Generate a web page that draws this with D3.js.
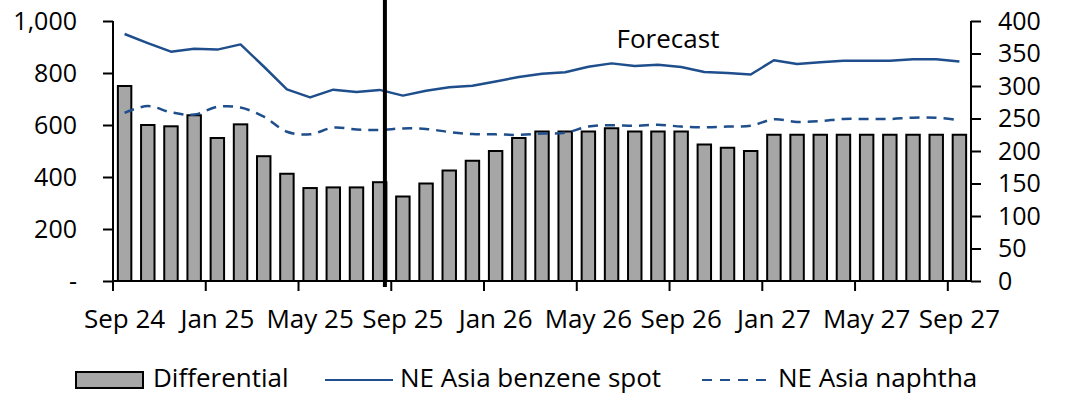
<!DOCTYPE html>
<html>
<head>
<meta charset="utf-8">
<script src="https://cdn.jsdelivr.net/npm/d3@7"></script>
<style>
  html, body { margin: 0; padding: 0; background: #fff; }
  svg text { font-family: "Open Sans", "Noto Sans", sans-serif; fill: #000; }
</style>
</head>
<body>
<svg id="chart" width="1076" height="394"></svg>
<script>
// Monthly categories, Sep 24 .. Sep 27
const months = [
  "Sep 24","Oct 24","Nov 24","Dec 24","Jan 25","Feb 25","Mar 25","Apr 25","May 25","Jun 25","Jul 25","Aug 25",
  "Sep 25","Oct 25","Nov 25","Dec 25","Jan 26","Feb 26","Mar 26","Apr 26","May 26","Jun 26","Jul 26","Aug 26",
  "Sep 26","Oct 26","Nov 26","Dec 26","Jan 27","Feb 27","Mar 27","Apr 27","May 27","Jun 27","Jul 27","Aug 27","Sep 27"
];

// Benzene-naphtha differential (right axis)
const differential = [
  300, 240, 238, 255, 220, 241, 192, 165, 143, 144, 144, 152,
  130, 150, 170, 185, 200, 220, 230, 230, 230, 235, 230, 230,
  230, 210, 205, 200, 225, 225, 225, 225, 225, 225, 225, 225, 225
];

// NE Asia benzene spot (left axis)
const benzene = [
  950, 915, 882, 893, 890, 910, 825, 737, 706, 736, 727, 735,
  713, 732, 745, 751, 767, 785, 797, 803, 824, 837, 827, 832,
  823, 804, 800, 794, 849, 835, 841, 847, 847, 847, 853, 853, 844
];

// NE Asia naphtha (left axis)
const naphtha = [
  647, 673, 649, 640, 670, 667, 632, 574, 564, 590, 583, 581,
  587, 585, 573, 565, 564, 562, 567, 570, 594, 599, 597, 601,
  594, 591, 594, 597, 622, 612, 615, 623, 623, 623, 628, 628, 619
];

const leftTicks = [0, 200, 400, 600, 800, 1000];
const rightTicks = [0, 50, 100, 150, 200, 250, 300, 350, 400];
const xLabelMonths = ["Sep 24","Jan 25","May 25","Sep 25","Jan 26","May 26","Sep 26","Jan 27","May 27","Sep 27"];
const forecastFrom = "Aug 25";

const lineColor = "#1f4e8c";
const barFill = "#a6a6a6";
const fontSize = 25;
const labelSize = 26;

const svg = d3.select("#chart");
const plot = { left: 113, right: 971, top: 21, bottom: 281 };

const x = d3.scaleBand()
  .domain(months)
  .range([plot.left, plot.right])
  .paddingInner(0.42)
  .paddingOuter(0.21);
const step = x.step();
const bw = x.bandwidth();
const cx = m => x(m) + bw / 2;
const boundary = m => cx(m) - step / 2;

const yL = d3.scaleLinear().domain([0, 1000]).range([plot.bottom, plot.top]);
const yR = d3.scaleLinear().domain([0, 400]).range([plot.bottom, plot.top]);

// Bars
svg.append("g")
  .selectAll("rect")
  .data(differential)
  .join("rect")
  .attr("x", (d, i) => x(months[i]))
  .attr("y", d => yR(d))
  .attr("width", bw)
  .attr("height", d => yR(0) - yR(d))
  .attr("fill", barFill)
  .attr("stroke", "#000")
  .attr("stroke-width", 2);

// Left axis
const gL = svg.append("g")
  .attr("transform", `translate(${plot.left},0)`)
  .call(d3.axisLeft(yL)
    .tickValues(leftTicks)
    .tickSize(10)
    .tickPadding(26)
    .tickFormat(d => d === 0 ? "-" : d3.format(",")(d)));

// Right axis
const gR = svg.append("g")
  .attr("transform", `translate(${plot.right},0)`)
  .call(d3.axisRight(yR)
    .tickValues(rightTicks)
    .tickSize(10)
    .tickPadding(17));

[gL, gR].forEach(g => {
  g.select(".domain").attr("stroke", "#000").attr("stroke-width", 2);
  g.selectAll(".tick line").attr("stroke", "#000").attr("stroke-width", 2);
  g.selectAll(".tick text").attr("font-size", fontSize).style("font-family", "'Open Sans', sans-serif");
});
gL.select(".domain").attr("d", `M0,${plot.top}V${plot.bottom}`);
gR.select(".domain").attr("d", `M0,${plot.top}V${plot.bottom}`);

// Category axis
const gX = svg.append("g");
gX.append("line")
  .attr("x1", plot.left).attr("x2", plot.right)
  .attr("y1", plot.bottom).attr("y2", plot.bottom)
  .attr("stroke", "#000").attr("stroke-width", 2);
gX.selectAll("line.tick")
  .data(xLabelMonths)
  .join("line")
  .attr("class", "tick")
  .attr("x1", d => boundary(d)).attr("x2", d => boundary(d))
  .attr("y1", plot.bottom).attr("y2", plot.bottom + 10)
  .attr("stroke", "#000").attr("stroke-width", 2);
gX.selectAll("text")
  .data(xLabelMonths)
  .join("text")
  .attr("x", d => cx(d))
  .attr("y", 328)
  .attr("text-anchor", "middle")
  .attr("font-size", labelSize)
  .text(d => d);

// Lines
const benzeneLine = d3.line()
  .x((d, i) => cx(months[i]))
  .y(d => yL(d));
const naphthaLine = d3.line()
  .x((d, i) => cx(months[i]))
  .y(d => yL(d))
  .curve(d3.curveCatmullRom.alpha(0.5));

svg.append("path")
  .datum(benzene)
  .attr("d", benzeneLine)
  .attr("fill", "none")
  .attr("stroke", lineColor)
  .attr("stroke-width", 2.5)
  .attr("stroke-linejoin", "round");

svg.append("path")
  .datum(naphtha)
  .attr("d", naphthaLine)
  .attr("fill", "none")
  .attr("stroke", lineColor)
  .attr("stroke-width", 2.5)
  .attr("stroke-dasharray", "10,7");

// Forecast divider and label
const fx = cx(forecastFrom) + bw / 2 - 1.5;
svg.append("line")
  .attr("x1", fx).attr("x2", fx)
  .attr("y1", 0).attr("y2", plot.bottom + 6)
  .attr("stroke", "#000").attr("stroke-width", 4);
svg.append("text")
  .attr("x", 668).attr("y", 48)
  .attr("text-anchor", "middle")
  .attr("font-size", labelSize)
  .text("Forecast");

// Legend
const lg = svg.append("g");
lg.append("rect")
  .attr("x", 76).attr("y", 372).attr("width", 67).attr("height", 16)
  .attr("fill", barFill).attr("stroke", "#000").attr("stroke-width", 2);
lg.append("text").attr("x", 153).attr("y", 387).attr("font-size", labelSize).text("Differential");
lg.append("line")
  .attr("x1", 325).attr("x2", 393).attr("y1", 380).attr("y2", 380)
  .attr("stroke", lineColor).attr("stroke-width", 2);
lg.append("text").attr("x", 400).attr("y", 387).attr("font-size", labelSize).text("NE Asia benzene spot");
lg.append("line")
  .attr("x1", 702).attr("x2", 768).attr("y1", 380).attr("y2", 380)
  .attr("stroke", lineColor).attr("stroke-width", 2)
  .attr("stroke-dasharray", "10,8");
lg.append("text").attr("x", 778).attr("y", 387).attr("font-size", labelSize).text("NE Asia naphtha");
</script>
</body>
</html>
